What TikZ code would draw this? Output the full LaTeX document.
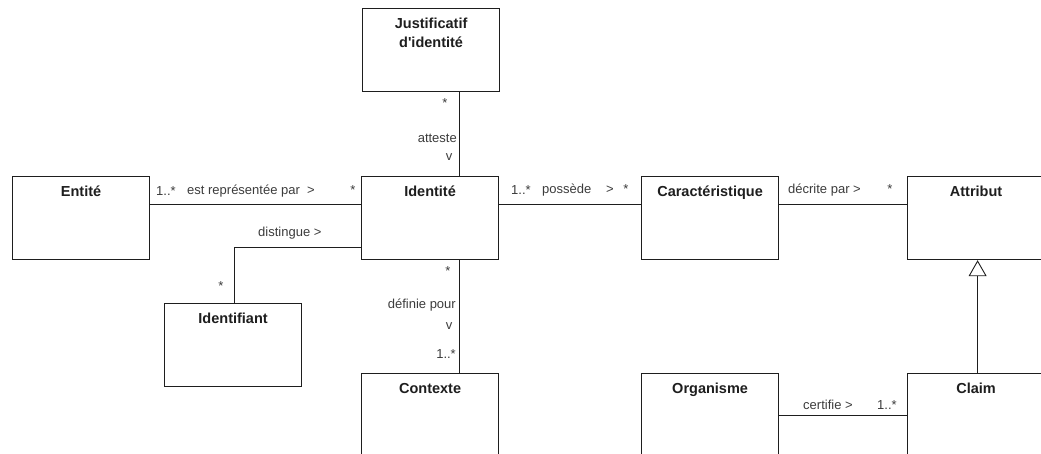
\documentclass[tikz,border=0pt]{standalone}
\usepackage{fontspec}
\setmainfont{Liberation Sans}[Ligatures=TeXOff]
\usetikzlibrary{arrows.meta}
\definecolor{ink}{HTML}{1E1E1E}
\definecolor{labelgray}{HTML}{3C3C3C}

\begin{document}
\begin{tikzpicture}[x=1pt,y=-1pt,
  umlclass/.style={draw=ink, line width=1.2pt, fill=white,
    minimum width=137pt, minimum height=83pt, anchor=north west, inner sep=0pt},
  title/.style={font=\fontsize{14.5}{19}\selectfont\bfseries, text=ink,
    align=center, anchor=north, inner sep=0pt, yshift=-10pt},
  role/.style={font=\fontsize{13}{15}\selectfont, text=labelgray, inner sep=0pt},
  assoc/.style={draw=ink, line width=0.9pt},
  generalization/.style={assoc, -{Triangle[open, width=18pt, length=16pt, line width=0.9pt]}},
]
\useasboundingbox (0,0) rectangle (1041,454);
\fill[white] (0,0) rectangle (1041,454);
\clip (0,0) rectangle (1041,454);

% classes
\node[umlclass, label={[title]north:Justificatif\\d'identité}] (just) at (362,8) {};
\node[umlclass, label={[title]north:Entité}] (ent) at (12,176) {};
\node[umlclass, label={[title]north:Identité}] (ident) at (361,176) {};
\node[umlclass, label={[title]north:Identifiant}] (idf) at (164,303) {};
\node[umlclass, label={[title]north:Contexte}] (ctx) at (361,373) {};
\node[umlclass, label={[title]north:Caractéristique}] (car) at (641,176) {};
\node[umlclass, label={[title]north:Attribut}] (attr) at (907,176) {};
\node[umlclass, label={[title]north:Organisme}] (org) at (641,373) {};
\node[umlclass, label={[title]north:Claim}] (claim) at (907,373) {};

% associations
\draw[assoc] ([yshift=-28pt]ent.north east) -- ([yshift=-28pt]ident.north west);
\draw[assoc] ([xshift=-40pt]ident.north east) -- ([xshift=-41pt]just.south east);
\draw[assoc] ([yshift=-71pt]ident.north west) -| ([xshift=1.5pt]idf.north);
\draw[assoc] ([xshift=-40pt]ident.south east) -- ([xshift=-40pt]ctx.north east);
\draw[assoc] ([yshift=-28pt]ident.north east) -- ([yshift=-28pt]car.north west);
\draw[assoc] ([yshift=-28pt]car.north east) -- ([yshift=-28pt]attr.north west);
\draw[assoc] ([yshift=-42pt]org.north east) -- ([yshift=-42pt]claim.north west);
\draw[generalization] ([xshift=1.5pt]claim.north) -- ([xshift=1.5pt]attr.south);

% association labels
\node[role, anchor=west] (m1) at (156,191) {1..*};
\node[role, anchor=west] (r1) at (187,191) {est représentée par};
\node[role] (d1) at (311,191) {>};
\node[role] (m2) at (353,190) {*};

\node[role, anchor=west] (r2) at (258,233) {distingue >};
\node[role] (m3) at (221,286) {*};

\node[role] (m4) at (445,103) {*};
\node[role, anchor=east] (r3) at (457,138) {atteste};
\node[role] (d3) at (449,157) {v};

\node[role] (m5) at (448,271) {*};
\node[role, anchor=east] (r4) at (456,305) {définie pour};
\node[role] (d4) at (449,326) {v};
\node[role, anchor=east] (m6) at (456,354) {1..*};

\node[role, anchor=west] (m7) at (511,190) {1..*};
\node[role, anchor=west] (r5) at (542,190) {possède};
\node[role] (d5) at (610,190) {>};
\node[role] (m8) at (626,189) {*};

\node[role, anchor=west] (r6) at (788,190) {décrite par >};
\node[role] (m9) at (890,189) {*};

\node[role, anchor=west] (r7) at (803,405) {certifie >};
\node[role, anchor=west] (m10) at (877,405) {1..*};
\end{tikzpicture}
\end{document}
